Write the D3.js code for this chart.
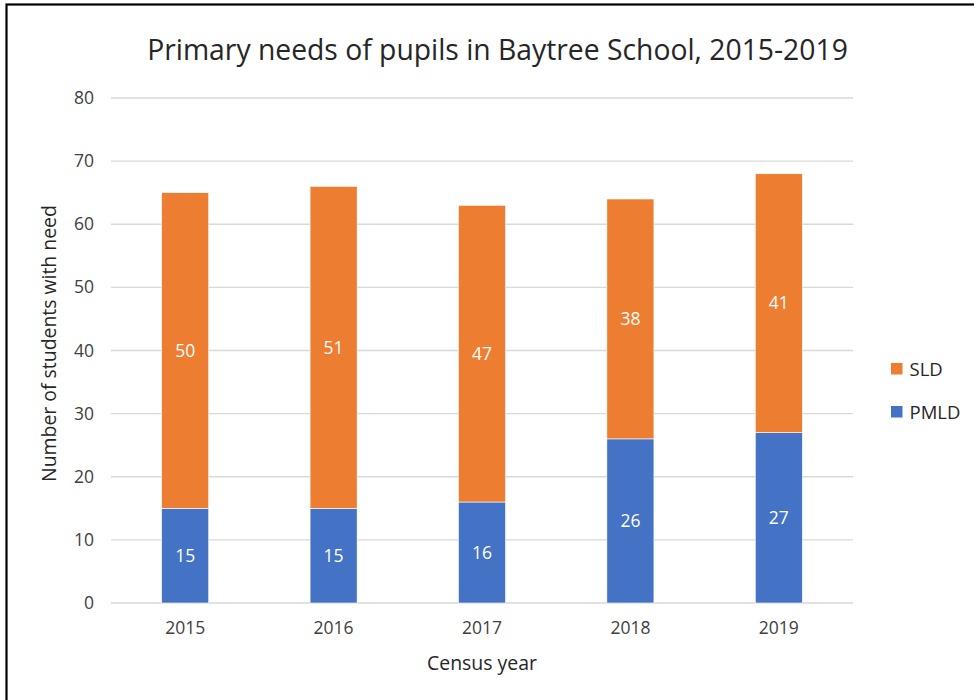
<!DOCTYPE html>
<html>
<head>
<meta charset="utf-8">
<script src="https://cdn.jsdelivr.net/npm/d3@7"></script>
<style>
  html, body { margin: 0; padding: 0; background: #fff; }
  svg { display: block; font-family: "Open Sans", sans-serif; }
</style>
</head>
<body>
<svg id="chart" width="974" height="700"></svg>
<script>
const years = ["2015", "2016", "2017", "2018", "2019"];
const pmld = [15, 15, 16, 26, 27];
const sld = [50, 51, 47, 38, 41];
const seriesNames = ["PMLD", "SLD"];
const yTicks = [0, 10, 20, 30, 40, 50, 60, 70, 80];
const titleText = "Primary needs of pupils in Baytree School, 2015-2019";
const xTitle = "Census year";
const yTitle = "Number of students with need";

const colors = { PMLD: "#4472C4", SLD: "#ED7D31" };

const svg = d3.select("#chart");

function fitWidth(sel, target) {
  const node = sel.node();
  const fs = parseFloat(sel.attr("font-size"));
  const w = node.getComputedTextLength();
  if (w > 0) sel.attr("font-size", (fs * target / w).toFixed(2));
}

// outer border
svg.append("rect")
  .attr("x", 6.5).attr("y", 4.5)
  .attr("width", 1000).attr("height", 800)
  .attr("fill", "none").attr("stroke", "#000").attr("stroke-width", 2.2);

const x = d3.scaleBand().domain(years).range([111, 853]).paddingInner(0.683).paddingOuter(0.3415);
const y = d3.scaleLinear().domain([0, 80]).range([603, 98]);

// gridlines
svg.append("g").selectAll("line").data(yTicks).join("line")
  .attr("x1", 111).attr("x2", 853)
  .attr("y1", d => y(d)).attr("y2", d => y(d))
  .attr("stroke", "#D9D9D9").attr("stroke-width", 1.4);

// y axis labels
const yAxis = d3.axisLeft(y).tickValues(yTicks).tickSize(0).tickPadding(0);
const gy = svg.append("g").attr("transform", "translate(94,0)").call(yAxis);
gy.select(".domain").remove();
gy.selectAll("text").attr("font-size", 17.5).attr("fill", "#404040")
  .attr("font-family", "Open Sans, sans-serif");

// x axis labels
const xAxis = d3.axisBottom(x).tickSize(0).tickPadding(0);
const gx = svg.append("g").attr("transform", "translate(0,622)").call(xAxis);
gx.select(".domain").remove();
gx.selectAll("text").attr("font-size", 17.5).attr("fill", "#404040")
  .attr("font-family", "Open Sans, sans-serif").attr("dy", "0.71em");

// stacked data
const rows = years.map((yr, i) => ({ year: yr, PMLD: pmld[i], SLD: sld[i] }));
const stack = d3.stack().keys(seriesNames)(rows);

const layers = svg.append("g").selectAll("g").data(stack).join("g")
  .attr("fill", d => colors[d.key]);

layers.selectAll("rect").data(d => d).join("rect")
  .attr("x", d => x(d.data.year))
  .attr("width", x.bandwidth())
  .attr("y", d => y(d[1]))
  .attr("height", d => y(d[0]) - y(d[1]))
  .attr("stroke", "#fff").attr("stroke-width", 0.6);

// data labels
layers.selectAll("text").data(d => d.map(v => ({ v, key: d.key }))).join("text")
  .attr("x", d => x(d.v.data.year) + x.bandwidth() / 2)
  .attr("y", d => y((d.v[0] + d.v[1]) / 2))
  .attr("dy", "0.36em")
  .attr("text-anchor", "middle")
  .attr("fill", "#fff")
  .attr("font-size", 17.5)
  .text(d => d.v.data[d.key]);

// title
const tt = svg.append("text")
  .attr("x", 497.5).attr("y", 60)
  .attr("text-anchor", "middle")
  .attr("font-size", 23)
  .attr("fill", "#262626")
  .text(titleText);
fitWidth(tt, 701);

// x title
const xt = svg.append("text")
  .attr("x", 482).attr("y", 670)
  .attr("text-anchor", "middle")
  .attr("font-size", 17.5)
  .attr("fill", "#262626")
  .text(xTitle);
fitWidth(xt, 110);

// y title
const yt = svg.append("text")
  .attr("transform", "translate(55.5,343.5) rotate(-90)")
  .attr("text-anchor", "middle")
  .attr("font-size", 17.5)
  .attr("fill", "#262626")
  .text(yTitle);
fitWidth(yt, 277);

// legend
const legendItems = ["SLD", "PMLD"];
const lg = svg.append("g").selectAll("g").data(legendItems).join("g")
  .attr("transform", (d, i) => `translate(891,${363 + i * 43})`);
lg.append("rect").attr("width", 11.5).attr("height", 11.5).attr("fill", d => colors[d]);
lg.append("text").attr("x", 18.5).attr("y", 6).attr("dy", "0.36em")
  .attr("font-size", 18.5).attr("fill", "#262626").text(d => d);
</script>
</body>
</html>
